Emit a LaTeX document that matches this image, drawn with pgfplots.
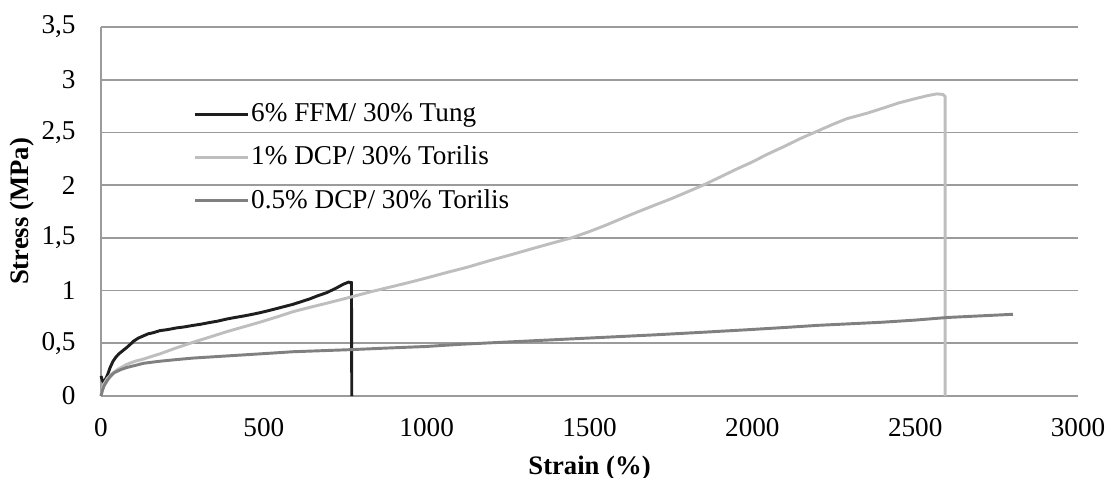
\documentclass[border=0pt]{standalone}
\usepackage{fontspec}
\setmainfont{Liberation Serif}
\usepackage{pgfplots}
\pgfplotsset{compat=1.18}
\definecolor{cBlack}{RGB}{30,30,30}
\definecolor{cLight}{RGB}{190,190,190}
\definecolor{cMid}{RGB}{128,128,128}
\definecolor{cGrid}{RGB}{155,155,155}
\begin{document}
\begin{tikzpicture}
\path[use as bounding box] (-37.875pt,-30.375pt) rectangle (377.25pt,148.5pt);
\begin{axis}[
  at={(0pt,0pt)}, anchor=south west,
  scale only axis,
  width=366.4pt, height=138.4pt,
  xmin=0, xmax=3000, ymin=0, ymax=3.5,
  xtick={0,500,...,3000},
  ytick={0,0.5,...,3.5},
  axis lines=left,
  axis line style={-, draw=cGrid, line width=0.65pt},
  major tick length=0pt,
  ymajorgrids,
  grid style={draw=cGrid, line width=0.65pt},
  /pgf/number format/assume math mode=true,
  /pgf/number format/use comma,
  /pgf/number format/1000 sep={},
  yticklabel style={/pgf/number format/fixed, /pgf/number format/precision=1},
  tick label style={font=\fontsize{10.2}{12}\selectfont, text=black},
  xticklabel style={yshift=-5pt},
  yticklabel style={xshift=-6pt},
  xlabel={\textbf{Strain (\%)}},
  ylabel={\textbf{Stress (MPa)}},
  label style={font=\fontsize{10}{12}\selectfont},
  xlabel style={at={(axis description cs:0.5,0)}, anchor=center, yshift=-27pt},
  ylabel style={at={(axis description cs:-0.0808,0.5)}, anchor=center, rotate=0},
  legend cell align=left,
  legend style={draw=none, fill=none, at={(rel axis cs:0.094,0.806)}, anchor=north west,
    font=\fontsize{10.2}{12}\selectfont, row sep=4.75pt, inner sep=0pt,
    nodes={inner ysep=1.5pt, inner xsep=0.6pt}},
  legend image code/.code={\draw[#1] (0pt,0pt) -- (20pt,0pt);},
  clip=false,
]
\addplot[cBlack, line width=1.1pt] coordinates {
(0,0.19)(4,0.15)(8,0.13)(14,0.16)(20,0.2)(28,0.27)(37,0.33)(46,0.37)(55,0.40)(67,0.43)(79,0.46)(90,0.49)(100,0.52)(115,0.55)(130,0.57)(145,0.59)(160,0.60)(181,0.62)(205,0.63)(230,0.645)(255,0.655)(283,0.67)(305,0.68)(330,0.695)(358,0.71)(386,0.73)(412,0.745)(440,0.76)(465,0.775)(488,0.79)(515,0.81)(540,0.83)(565,0.85)(590,0.87)(615,0.895)(640,0.92)(665,0.95)(693,0.98)(720,1.02)(744,1.06)(760,1.08)(769,1.075)(770,0)
};
\addlegendentry{6\% FFM/ 30\% Tung}
\addplot[cLight, line width=1.1pt] coordinates {
(0,0)(5,0.08)(10,0.12)(20,0.17)(30,0.2)(50,0.25)(79,0.30)(105,0.33)(130,0.35)(155,0.375)(181,0.40)(230,0.455)(283,0.51)(335,0.56)(386,0.61)(437,0.655)(488,0.70)(540,0.75)(590,0.80)(640,0.84)(693,0.88)(769,0.94)(830,0.99)(897,1.04)(950,1.08)(1000,1.12)(1060,1.17)(1123,1.22)(1200,1.29)(1265,1.345)(1327,1.40)(1385,1.45)(1445,1.50)(1500,1.56)(1550,1.62)(1600,1.685)(1635,1.73)(1700,1.81)(1750,1.87)(1800,1.935)(1849,2.0)(1900,2.075)(1950,2.15)(2000,2.22)(2044,2.29)(2100,2.37)(2146,2.44)(2198,2.51)(2250,2.58)(2290,2.63)(2350,2.68)(2401,2.73)(2450,2.78)(2500,2.82)(2540,2.85)(2566,2.865)(2585,2.86)(2592,2.84)(2592,0)
};
\addlegendentry{1\% DCP/ 30\% Torilis}
\addplot[cMid, line width=1.1pt] coordinates {
(0,0)(5,0.06)(10,0.1)(20,0.15)(30,0.19)(40,0.22)(60,0.25)(79,0.27)(105,0.29)(130,0.31)(155,0.32)(181,0.33)(230,0.345)(283,0.36)(335,0.37)(386,0.38)(490,0.40)(590,0.42)(680,0.43)(769,0.44)(880,0.455)(1000,0.47)(1102,0.49)(1200,0.505)(1300,0.52)(1400,0.535)(1500,0.55)(1600,0.565)(1700,0.58)(1850,0.605)(1993,0.63)(2100,0.65)(2200,0.67)(2300,0.685)(2400,0.70)(2500,0.72)(2600,0.745)(2700,0.76)(2800,0.775)
};
\addlegendentry{0.5\% DCP/ 30\% Torilis}
\end{axis}
\end{tikzpicture}
\end{document}
